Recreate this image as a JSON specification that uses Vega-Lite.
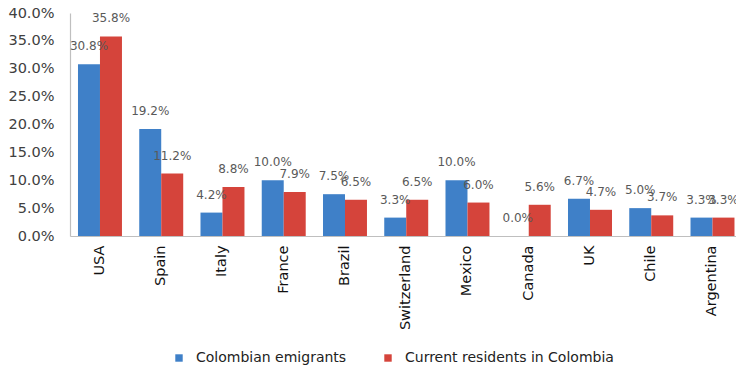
{
  "$schema": "https://vega.github.io/schema/vega-lite/v6.json",
  "autosize": "none",
  "width": 666,
  "height": 223,
  "padding": {"left": 70, "top": 13, "right": 0, "bottom": 135},
  "background": "white",
  "config": {
    "view": {"stroke": null},
    "font": "DejaVu Sans",
    "axis": {"domainColor": "#bfbfbf", "domainWidth": 1.2, "ticks": false, "grid": false, "title": null}
  },
  "data": {
    "values": [
      {"country": "USA", "series": "Colombian emigrants", "share": 0.308},
      {"country": "USA", "series": "Current residents in Colombia", "share": 0.358},
      {"country": "Spain", "series": "Colombian emigrants", "share": 0.192},
      {"country": "Spain", "series": "Current residents in Colombia", "share": 0.112},
      {"country": "Italy", "series": "Colombian emigrants", "share": 0.042},
      {"country": "Italy", "series": "Current residents in Colombia", "share": 0.088},
      {"country": "France", "series": "Colombian emigrants", "share": 0.100},
      {"country": "France", "series": "Current residents in Colombia", "share": 0.079},
      {"country": "Brazil", "series": "Colombian emigrants", "share": 0.075},
      {"country": "Brazil", "series": "Current residents in Colombia", "share": 0.065},
      {"country": "Switzerland", "series": "Colombian emigrants", "share": 0.033},
      {"country": "Switzerland", "series": "Current residents in Colombia", "share": 0.065},
      {"country": "Mexico", "series": "Colombian emigrants", "share": 0.100},
      {"country": "Mexico", "series": "Current residents in Colombia", "share": 0.060},
      {"country": "Canada", "series": "Colombian emigrants", "share": 0.000},
      {"country": "Canada", "series": "Current residents in Colombia", "share": 0.056},
      {"country": "UK", "series": "Colombian emigrants", "share": 0.067},
      {"country": "UK", "series": "Current residents in Colombia", "share": 0.047},
      {"country": "Chile", "series": "Colombian emigrants", "share": 0.050},
      {"country": "Chile", "series": "Current residents in Colombia", "share": 0.037},
      {"country": "Argentina", "series": "Colombian emigrants", "share": 0.033},
      {"country": "Argentina", "series": "Current residents in Colombia", "share": 0.033}
    ]
  },
  "encoding": {
    "x": {
      "field": "country",
      "type": "nominal",
      "sort": null,
      "scale": {"paddingInner": 0.282, "paddingOuter": 0.0776, "align": 0.84},
      "axis": {"labelAngle": -90, "labelAlign": "right", "labelBaseline": "middle", "labelFontSize": 14.5, "labelColor": "#111111", "labelPadding": 9}
    },
    "xOffset": {
      "field": "series",
      "type": "nominal",
      "scale": {"paddingInner": 0, "paddingOuter": 0}
    },
    "y": {
      "field": "share",
      "type": "quantitative",
      "scale": {"domain": [0, 0.4], "nice": false},
      "axis": {"format": ".1%", "values": [0, 0.05, 0.1, 0.15, 0.2, 0.25, 0.3, 0.35, 0.4], "labelFontSize": 14.5, "labelColor": "#404040", "labelPadding": 16}
    }
  },
  "layer": [
    {
      "mark": {"type": "bar"},
      "encoding": {
        "color": {
          "field": "series",
          "type": "nominal",
          "scale": {"domain": ["Colombian emigrants", "Current residents in Colombia"], "range": ["#3f80c8", "#d5443b"]},
          "legend": {
            "title": null,
            "orient": "none",
            "direction": "horizontal",
            "legendX": 102,
            "legendY": 338,
            "symbolType": "square",
            "symbolSize": 55,
            "symbolStrokeWidth": 0,
            "labelFontSize": 14,
            "labelLimit": 0,
            "labelColor": "#222222",
            "labelOffset": 10,
            "columnPadding": 34
          }
        }
      }
    },
    {
      "mark": {"type": "text", "baseline": "middle", "align": "center", "dy": -18, "fontSize": 12, "color": "#595959"},
      "encoding": {
        "text": {"field": "share", "type": "quantitative", "format": ".1%"}
      }
    }
  ]
}
